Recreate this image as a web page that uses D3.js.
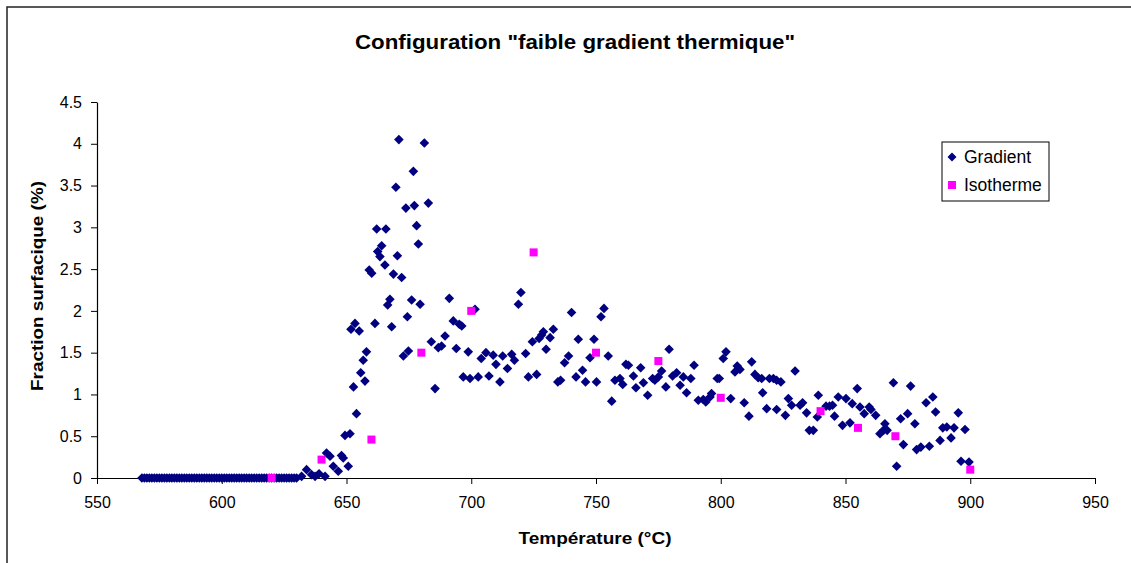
<!DOCTYPE html>
<html>
<head>
<meta charset="utf-8">
<script src="https://cdn.jsdelivr.net/npm/d3@7"></script>
<style>
  body { margin: 0; background: #fff; }
  text { font-family: "Liberation Sans", Arial, sans-serif; }
</style>
</head>
<body>
<div id="chart"></div>
<script>
// valeurs
const title = 'Configuration "faible gradient thermique"';
const xTitle = "Température (°C)";
const yTitle = "Fraction surfacique (%)";
const xTicks = [550, 600, 650, 700, 750, 800, 850, 900, 950];
const yTicks = [0, 0.5, 1, 1.5, 2, 2.5, 3, 3.5, 4, 4.5];

// plateau à zéro avant la germination (568 -> 630 °C)
const gradientZeroTemps = [
  568, 569, 570, 571, 572, 573, 574, 575, 576, 577, 578, 579, 580, 581, 582,
  583, 584, 585, 586, 587, 588, 589, 590, 591, 592, 593, 594, 595, 596, 597,
  598, 599, 600, 601, 602, 603, 604, 605, 606, 607, 608, 609, 610, 611, 612,
  613, 614, 615, 616, 617, 618, 619, 620, 621, 622, 623, 624, 625, 626, 627,
  628, 629, 630,
];

// série "Gradient" : [température, fraction]
const gradient = [
  [632, 0.02], [634, 0.1], [636, 0.04], [637.4, 0.02], [639, 0.05],
  [641.4, 0.02], [642, 0.3], [643.4, 0.26], [644.7, 0.14], [646.7, 0.08],
  [648, 0.27], [648.7, 0.24], [649.4, 0.51], [650.7, 0.14], [651.4, 0.53],
  [651.8, 1.78], [652.8, 1.09], [653.4, 1.85], [654, 0.77], [655.1, 1.76],
  [655.7, 1.26], [656.7, 1.41], [657.4, 1.16], [658, 1.51], [659.1, 2.49],
  [660.1, 2.45], [661.4, 1.85], [662.1, 2.98], [662.5, 2.71], [663.4, 2.65],
  [664.1, 2.78], [665.4, 2.55], [665.8, 2.98], [666.5, 2.07], [667.4, 2.14],
  [668.1, 1.81], [668.8, 2.44], [669.8, 3.48], [670.4, 2.66], [671, 4.05],
  [672.1, 2.4], [672.8, 1.46], [673.8, 3.23], [674.4, 1.93], [674.8, 1.52],
  [676.1, 2.13], [676.8, 3.67], [677.2, 3.26], [678.1, 3.02], [678.8, 2.8],
  [679.5, 2.08], [681.2, 4.01], [682.8, 3.29], [684, 1.63], [685.5, 1.07],
  [686.8, 1.56], [688.1, 1.58], [689.5, 1.7], [691.2, 2.15], [692.8, 1.88],
  [694, 1.55], [695.2, 1.84], [696.2, 1.82], [696.8, 1.21], [698.8, 1.51],
  [699.5, 1.19], [701.5, 2.02], [702.8, 1.21], [704, 1.43], [705.9, 1.5],
  [707.1, 1.22], [708.8, 1.47], [709.9, 1.36], [711.5, 1.15], [712.6, 1.46],
  [714.5, 1.31], [716.2, 1.48], [717.3, 1.41], [718.9, 2.08], [719.9, 2.22],
  [721.8, 1.49], [722.9, 1.21], [724.5, 1.63], [726.2, 1.24], [727.2, 1.67],
  [728.2, 1.71], [728.9, 1.75], [730, 1.54], [731.6, 1.68], [732.9, 1.78],
  [734.7, 1.15], [735.8, 1.17], [737.4, 1.38], [739, 1.46], [740.2, 1.98],
  [742, 1.21], [742.9, 1.66], [744.6, 1.29], [745.8, 1.15], [747.6, 1.44],
  [749.2, 1.66], [750.2, 1.15], [752, 1.93], [753.2, 2.03], [754.9, 1.46],
  [756.3, 0.92], [757.6, 1.17], [759.6, 1.19], [760.7, 1.12], [762, 1.36],
  [763, 1.35], [765, 1.22], [766, 1.08], [767.9, 1.32], [769, 1.14],
  [770.7, 0.99], [772.7, 1.19], [773.6, 1.17], [775, 1.21], [776.3, 1.28],
  [778, 1.09], [779.3, 1.54], [780.7, 1.22], [782.3, 1.26], [783.7, 1.11],
  [785, 1.21], [786.3, 1.02], [788, 1.19], [789.3, 1.35], [791, 0.93],
  [793, 0.94], [794, 0.91], [795.7, 0.97], [796.3, 1.01], [798.6, 1.19],
  [799.4, 1.19], [801, 1.43], [802.1, 1.51], [804, 0.95], [805.7, 1.27],
  [806.6, 1.34], [807.7, 1.3], [809.4, 0.9], [811.3, 0.74], [812.4, 1.39],
  [813.7, 1.24], [815, 1.2], [816.4, 1.19], [816.8, 1.02], [818.4, 0.83],
  [819.5, 1.19], [821.1, 1.19], [822.4, 1.17], [822.4, 0.82], [824.1, 1.15],
  [825.9, 0.75], [827.1, 0.95], [828.4, 0.87], [829.8, 1.28], [831.8, 0.87],
  [832.8, 0.9], [834.4, 0.78], [835.5, 0.57], [837.1, 0.57], [838.7, 0.73],
  [839.1, 0.99], [842.2, 0.86], [843.6, 0.86], [844.8, 0.87], [845.6, 0.74],
  [847.1, 0.97], [848.8, 0.63], [850.2, 0.95], [851.8, 0.66], [852.7, 0.89],
  [854.7, 1.07], [855.8, 0.85], [857.5, 0.77], [859.5, 0.85], [860.2, 0.82],
  [862.1, 0.75], [863.8, 0.53], [865.2, 0.57], [865.8, 0.65], [866.7, 0.57],
  [869.2, 1.14], [870.5, 0.14], [872.1, 0.71], [873.2, 0.4], [874.9, 0.77],
  [876.1, 1.1], [877.8, 0.65], [878.5, 0.34], [880.2, 0.37], [882.3, 0.9],
  [883.6, 0.38], [885, 0.97], [886.1, 0.79], [887.9, 0.45], [889, 0.6],
  [890.6, 0.61], [892.3, 0.48], [893.5, 0.6], [895.2, 0.78], [896.3, 0.2],
  [897.9, 0.58], [899.5, 0.19],
];

// série "Isotherme"
const isothermeTemps = [620, 640, 660, 680, 700, 725, 750, 775, 800, 840, 855, 870, 900];
const isothermeValues = [0, 0.22, 0.46, 1.5, 2.0, 2.7, 1.5, 1.4, 0.96, 0.8, 0.6, 0.5, 0.1];

const width = 1131;
const height = 563;
const margin = { left: 97, right: 36, top: 102, bottom: 85 };

const svg = d3
  .select("#chart")
  .append("svg")
  .attr("width", width)
  .attr("height", height);

// cadre du graphique (coupé à droite et en bas)
svg
  .append("rect")
  .attr("x", 7)
  .attr("y", 7)
  .attr("width", 1300)
  .attr("height", 700)
  .attr("fill", "none")
  .attr("stroke", "#222")
  .attr("stroke-width", 1.5);

const x = d3
  .scaleLinear()
  .domain([550, 950])
  .range([margin.left, width - margin.right]);

const y = d3
  .scaleLinear()
  .domain([0, 4.5])
  .range([height - margin.bottom, margin.top]);

const xAxis = svg
  .append("g")
  .attr("transform", `translate(0, ${y(0)})`)
  .call(d3.axisBottom(x).tickValues(xTicks).tickSize(6).tickSizeOuter(0).tickPadding(13));

const yAxis = svg
  .append("g")
  .attr("transform", `translate(${x(550)}, 0)`)
  .call(
    d3.axisLeft(y)
      .tickValues(yTicks)
      .tickSize(6)
      .tickSizeOuter(0)
      .tickPadding(9)
      .tickFormat((d) => String(d))
  );

[xAxis, yAxis].forEach((g) => {
  g.select(".domain").attr("stroke", "#000").attr("stroke-width", 1.2);
  g.selectAll(".tick line").attr("stroke", "#000");
  g.selectAll("text")
    .attr("fill", "#000")
    .style("font-family", '"Liberation Sans", Arial, sans-serif')
    .style("font-size", "16px");
});

// titres
svg
  .append("text")
  .attr("x", 575)
  .attr("y", 49)
  .attr("text-anchor", "middle")
  .attr("textLength", 440)
  .attr("lengthAdjust", "spacingAndGlyphs")
  .style("font-size", "20px")
  .style("font-weight", "bold")
  .text(title);

svg
  .append("text")
  .attr("x", 595)
  .attr("y", 544)
  .attr("text-anchor", "middle")
  .attr("textLength", 153)
  .attr("lengthAdjust", "spacingAndGlyphs")
  .style("font-size", "17px")
  .style("font-weight", "bold")
  .text(xTitle);

svg
  .append("text")
  .attr("transform", "translate(43, 286) rotate(-90)")
  .attr("text-anchor", "middle")
  .attr("textLength", 210)
  .attr("lengthAdjust", "spacingAndGlyphs")
  .style("font-size", "17px")
  .style("font-weight", "bold")
  .text(yTitle);

const diamond = (cx, cy, r) =>
  `M${cx},${cy - r}L${cx + r},${cy}L${cx},${cy + r}L${cx - r},${cy}Z`;

const gradientPoints = gradientZeroTemps.map((t) => [t, 0]).concat(gradient);

svg
  .append("g")
  .selectAll("path")
  .data(gradientPoints)
  .enter()
  .append("path")
  .attr("d", (d) => diamond(x(d[0]), y(d[1]), 4.8))
  .attr("fill", "#000080");

const sq = 8;
svg
  .append("g")
  .selectAll("rect")
  .data(isothermeTemps.map((t, i) => [t, isothermeValues[i]]))
  .enter()
  .append("rect")
  .attr("x", (d) => x(d[0]) - sq / 2)
  .attr("y", (d) => y(d[1]) - sq / 2)
  .attr("width", sq)
  .attr("height", sq)
  .attr("fill", "#ff00ff");

// légende
const legend = svg.append("g").attr("transform", "translate(942, 142)");
legend
  .append("rect")
  .attr("width", 107)
  .attr("height", 59)
  .attr("fill", "#fff")
  .attr("stroke", "#000")
  .attr("stroke-width", 1);
legend.append("path").attr("d", diamond(10, 15, 4.5)).attr("fill", "#000080");
legend
  .append("rect")
  .attr("x", 6)
  .attr("y", 39)
  .attr("width", 8)
  .attr("height", 8)
  .attr("fill", "#ff00ff");
[
  { label: "Gradient", yy: 15 },
  { label: "Isotherme", yy: 43 },
].forEach(({ label, yy }) => {
  legend
    .append("text")
    .attr("x", 22)
    .attr("y", yy)
    .attr("dy", "0.35em")
    .style("font-size", "17.5px")
    .text(label);
});
</script>
</body>
</html>
